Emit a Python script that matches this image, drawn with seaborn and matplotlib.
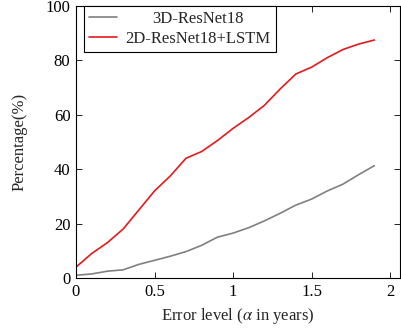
import seaborn as sns
import matplotlib.pyplot as plt
import pandas as pd

err_level = [0.0, 0.1, 0.2, 0.3, 0.4, 0.5, 0.6, 0.7, 0.8, 0.9,
             1.0, 1.1, 1.2, 1.3, 1.4, 1.5, 1.6, 1.7, 1.8, 1.9]
resnet3d = [1.0, 1.5, 2.5, 3.0, 5.0, 6.5, 8.0, 9.7, 12.0, 15.0,
            16.5, 18.5, 21.0, 23.8, 26.8, 29.0, 32.0, 34.5, 38.0, 41.3]
resnet2d_lstm = [4.0, 9.0, 13.0, 18.0, 25.0, 32.0, 37.5, 44.0, 46.5, 50.5,
                 55.0, 59.0, 63.5, 69.5, 75.0, 77.5, 81.0, 84.0, 86.0, 87.5]
series_names = ["3D-ResNet18", "2D-ResNet18+LSTM"]
x_ticks = [0, 0.5, 1, 1.5, 2]
y_ticks = [0, 20, 40, 60, 80, 100]

df = pd.DataFrame({
    "x": err_level * 2,
    "y": resnet3d + resnet2d_lstm,
    "model": [series_names[0]] * len(err_level) + [series_names[1]] * len(err_level),
})

sns.set_theme(style="ticks")
plt.rcParams["font.family"] = ["Liberation Serif", "DejaVu Serif"]
plt.rcParams["mathtext.fontset"] = "stix"
fs = 12

fig = plt.figure(figsize=(4.01, 3.29), dpi=100)
ax = fig.add_axes([76 / 401, 1 - 278 / 329, (399.5 - 76) / 401, (278 - 6) / 329])

sns.lineplot(data=df, x="x", y="y", hue="model", ax=ax,
             palette=["#808080", "#e31a1c"], linewidth=1.2)

ax.set_xlim(0, 2.06)
ax.set_ylim(0, 100)
ax.set_xticks(x_ticks)
ax.set_xticklabels(["0", "0.5", "1", "1.5", "2"])
ax.set_yticks(y_ticks)
ax.tick_params(direction="in", top=True, right=True, length=4, width=0.6,
               labelsize=fs, colors="black", pad=4)
for s in ax.spines.values():
    s.set_linewidth(0.8)
    s.set_color("black")
ax.set_xlabel(r"Error level ($\alpha$ in years)", fontsize=fs, labelpad=5)
ax.set_ylabel("Percentage(%)", fontsize=fs, labelpad=13)

leg = ax.legend(loc="upper left", bbox_to_anchor=(0.024, 1.0), fontsize=fs,
                frameon=True, fancybox=False, edgecolor="black",
                handlelength=1.7, handletextpad=0.5, borderpad=0.3,
                labelspacing=0.25, borderaxespad=0.0)
leg.get_frame().set_linewidth(0.8)
leg.get_frame().set_alpha(1)

# centre the shorter legend entry like pgfplots does
fig.canvas.draw()
r = fig.canvas.get_renderer()
texts = leg.get_texts()
w = [t.get_window_extent(r).width for t in texts]
texts[0].set_position(((w[1] - w[0]) / 2, 0))

fig.savefig("out.png", dpi=100)
